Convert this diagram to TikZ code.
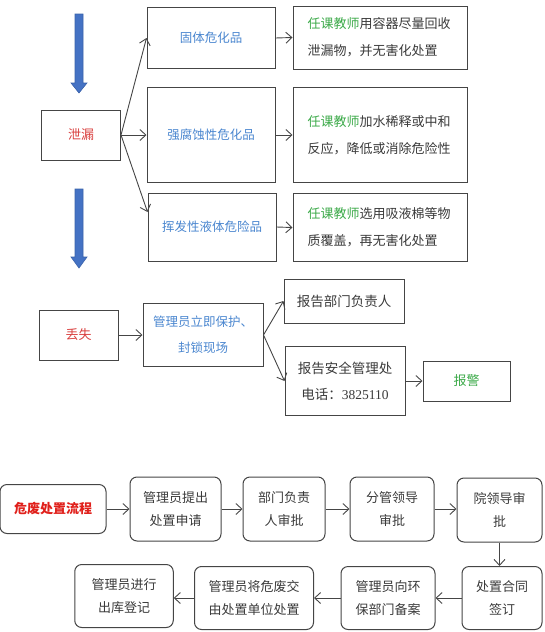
\documentclass[tikz,border=0pt]{standalone}
\usepackage{fontspec}
\setmainfont{Noto Sans CJK SC}
\newfontfamily\digitfont{Liberation Serif}
\usetikzlibrary{arrows.meta}
\definecolor{txtblue}{HTML}{4A86CF}
\definecolor{txtred}{HTML}{D9403F}
\definecolor{flowred}{HTML}{E0201B}
\definecolor{txtgreen}{HTML}{3DAA4A}
\definecolor{txtgray}{HTML}{3A3A3A}
\definecolor{linegray}{HTML}{454545}
\definecolor{arrowblue}{HTML}{4472C4}
\definecolor{arrowedge}{HTML}{3A62AA}
\newcommand{\teacher}{\textcolor{txtgreen}{任课教师}}

\begin{document}
\begin{tikzpicture}[x=1pt,y=-1pt,>={Straight Barb[length=6pt,width=11pt]},
    sqbox/.style={draw=linegray,line width=1pt,inner sep=0pt,text=txtgray,align=center},
    notebox/.style={sqbox,minimum width=174pt,text width=145pt,align=left,font=\fontsize{13}{27}\selectfont},
    rbox/.style={draw=linegray,line width=1pt,rounded corners=7pt,inner sep=0pt,text=txtgray,align=center,font=\fontsize{13}{23}\selectfont},
    link/.style={->,draw=linegray,line width=0.9pt}]
    \useasboundingbox (0,0) rectangle (545,632);

    % blue down arrows
    \foreach \top/\neck/\tip in {14/83/93,189/257/268}
        \filldraw[fill=arrowblue,draw=arrowedge,line width=0.6pt] (75,\top)--(83,\top)--(83,\neck)--(87,\neck)--(79,\tip)--(71,\neck)--(75,\neck)--cycle;

    % leak
    \node[sqbox,minimum width=79pt,minimum height=50pt,text=txtred,font=\fontsize{13}{26}\selectfont] (leak) at (81,135) {泄漏};
    \node[sqbox,minimum width=128pt,minimum height=61pt,text=txtblue,font=\fontsize{12.5}{26}\selectfont] (solid) at (211,38) {固体危化品};
    \node[sqbox,minimum width=128pt,minimum height=95pt,text=txtblue,font=\fontsize{12.5}{26}\selectfont] (acid) at (211,135) {强腐蚀性危化品};
    \node[sqbox,minimum width=128pt,minimum height=68pt,text=txtblue,font=\fontsize{12.5}{26}\selectfont] (volatile) at (212,227) {挥发性液体危险品};
    \node[notebox,minimum height=63pt] (solidnote) at (380,37.5) {\teacher 用容器尽量回收\\泄漏物，并无害化处置};
    \node[notebox,minimum height=95pt] (acidnote) at (380,135) {\teacher 加水稀释或中和\\反应，降低或消除危险性};
    \node[notebox,minimum height=68pt] (volnote) at (380,227.5) {\teacher 选用吸液棉等物\\质覆盖，再无害化处置};

    \draw[link] (leak.east)--(solid.west);
    \draw[link] (leak.east)--(acid.west);
    \draw[link] (leak.east)--([yshift=15pt]volatile.west);
    \draw[link] (solid.east)--(solidnote.west);
    \draw[link] (acid.east)--(acidnote.west);
    \draw[link] (volatile.east)--(volnote.west);

    % lost
    \node[sqbox,minimum width=79pt,minimum height=50pt,text=txtred,font=\fontsize{13}{26}\selectfont] (lost) at (78.5,335) {丢失};
    \node[sqbox,minimum width=120pt,minimum height=63pt,text=txtblue,font=\fontsize{12.5}{26}\selectfont] (guard) at (203,335) {管理员立即保护、\\封锁现场};
    \node[sqbox,minimum width=120pt,minimum height=44pt,font=\fontsize{13.5}{26}\selectfont] (dept) at (344,301) {报告部门负责人};
    \node[sqbox,minimum width=120pt,minimum height=69pt,font=\fontsize{13.5}{26}\selectfont] (safety) at (345,381) {报告安全管理处\\电话：{\digitfont 3825110}};
    \node[sqbox,minimum width=87pt,minimum height=40pt,text=txtgreen,font=\fontsize{13}{26}\selectfont] (police) at (466.5,381) {报警};

    \draw[link] (lost.east)--(guard.west);
    \draw[link] (guard.east)--(dept.west);
    \draw[link] (guard.east)--(safety.west);
    \draw[link] (safety.east)--(police.west);

    % disposal flow
    \node[rbox,minimum width=106pt,minimum height=49pt,text=flowred,font=\fontsize{13}{23}\bfseries] (flow) at (53,509) {危废处置流程};
    \node[rbox,minimum width=91pt,minimum height=64pt] (apply) at (175.5,509) {管理员提出\\处置申请};
    \node[rbox,minimum width=82pt,minimum height=64pt] (deptok) at (284,509) {部门负责\\人审批};
    \node[rbox,minimum width=84pt,minimum height=64pt] (leadok) at (392,509) {分管领导\\审批};
    \node[rbox,minimum width=85pt,minimum height=64pt] (deanok) at (499.5,510) {院领导审\\批};
    \node[rbox,minimum width=80pt,minimum height=63pt] (contract) at (502,598) {处置合同\\签订};
    \node[rbox,minimum width=94pt,minimum height=63pt] (envrec) at (388,598) {管理员向环\\保部门备案};
    \node[rbox,minimum width=119pt,minimum height=63pt] (handover) at (254,598) {管理员将危废交\\由处置单位处置};
    \node[rbox,minimum width=98.5pt,minimum height=63pt] (outreg) at (124,596) {管理员进行\\出库登记};

    \draw[link] (flow.east)--(apply.west);
    \draw[link] (apply.east)--(deptok.west);
    \draw[link] (deptok.east)--(leadok.west);
    \draw[link] (leadok.east)--(leadok.east-|deanok.west);
    \draw[link] (deanok.south)--(deanok.south|-contract.north);
    \draw[link] (contract.west)--(envrec.east);
    \draw[link] (envrec.west)--(envrec.west-|handover.east);
    \draw[link] (handover.west)--(handover.west-|outreg.east);
\end{tikzpicture}
\end{document}
